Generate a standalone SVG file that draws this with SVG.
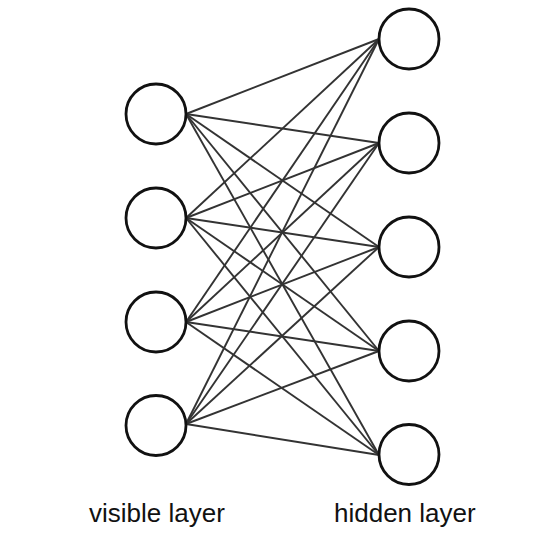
<svg xmlns="http://www.w3.org/2000/svg" width="550" height="546" viewBox="0 0 550 546">
<style>
.node{fill:#fff;stroke:#111;stroke-width:2.8}
.edge{stroke:#333;stroke-width:1.9;fill:none}
.lbl{font-family:"Liberation Sans",Arial,sans-serif;font-size:26px;fill:#111}
</style>
<rect width="550" height="546" fill="#fff"/>
<g id="connectors">
<line class="edge" x1="186" y1="114" x2="379" y2="39"/>
<line class="edge" x1="186" y1="114" x2="379" y2="143"/>
<line class="edge" x1="186" y1="114" x2="379" y2="247"/>
<line class="edge" x1="186" y1="114" x2="379" y2="351"/>
<line class="edge" x1="186" y1="114" x2="379" y2="455"/>
<line class="edge" x1="186" y1="218" x2="379" y2="39"/>
<line class="edge" x1="186" y1="218" x2="379" y2="143"/>
<line class="edge" x1="186" y1="218" x2="379" y2="247"/>
<line class="edge" x1="186" y1="218" x2="379" y2="351"/>
<line class="edge" x1="186" y1="218" x2="379" y2="455"/>
<line class="edge" x1="186" y1="322" x2="379" y2="39"/>
<line class="edge" x1="186" y1="322" x2="379" y2="143"/>
<line class="edge" x1="186" y1="322" x2="379" y2="247"/>
<line class="edge" x1="186" y1="322" x2="379" y2="351"/>
<line class="edge" x1="186" y1="322" x2="379" y2="455"/>
<line class="edge" x1="186" y1="424" x2="379" y2="39"/>
<line class="edge" x1="186" y1="424" x2="379" y2="143"/>
<line class="edge" x1="186" y1="424" x2="379" y2="247"/>
<line class="edge" x1="186" y1="424" x2="379" y2="351"/>
<line class="edge" x1="186" y1="424" x2="379" y2="455"/>
</g>
<g id="v1"><circle class="node" cx="156" cy="114" r="30"/></g>
<g id="v2"><circle class="node" cx="156" cy="218" r="30"/></g>
<g id="v3"><circle class="node" cx="156" cy="322" r="30"/></g>
<g id="v4"><circle class="node" cx="156" cy="425.5" r="30"/></g>
<g id="h1"><circle class="node" cx="409" cy="39" r="30"/></g>
<g id="h2"><circle class="node" cx="409" cy="143" r="30"/></g>
<g id="h3"><circle class="node" cx="409" cy="247" r="30"/></g>
<g id="h4"><circle class="node" cx="409" cy="351" r="30"/></g>
<g id="h5"><circle class="node" cx="409" cy="454.5" r="30"/></g>
<g id="labels">
<text class="lbl" x="89" y="522">visible layer</text>
<text class="lbl" x="334" y="522">hidden layer</text>
</g>
</svg>
